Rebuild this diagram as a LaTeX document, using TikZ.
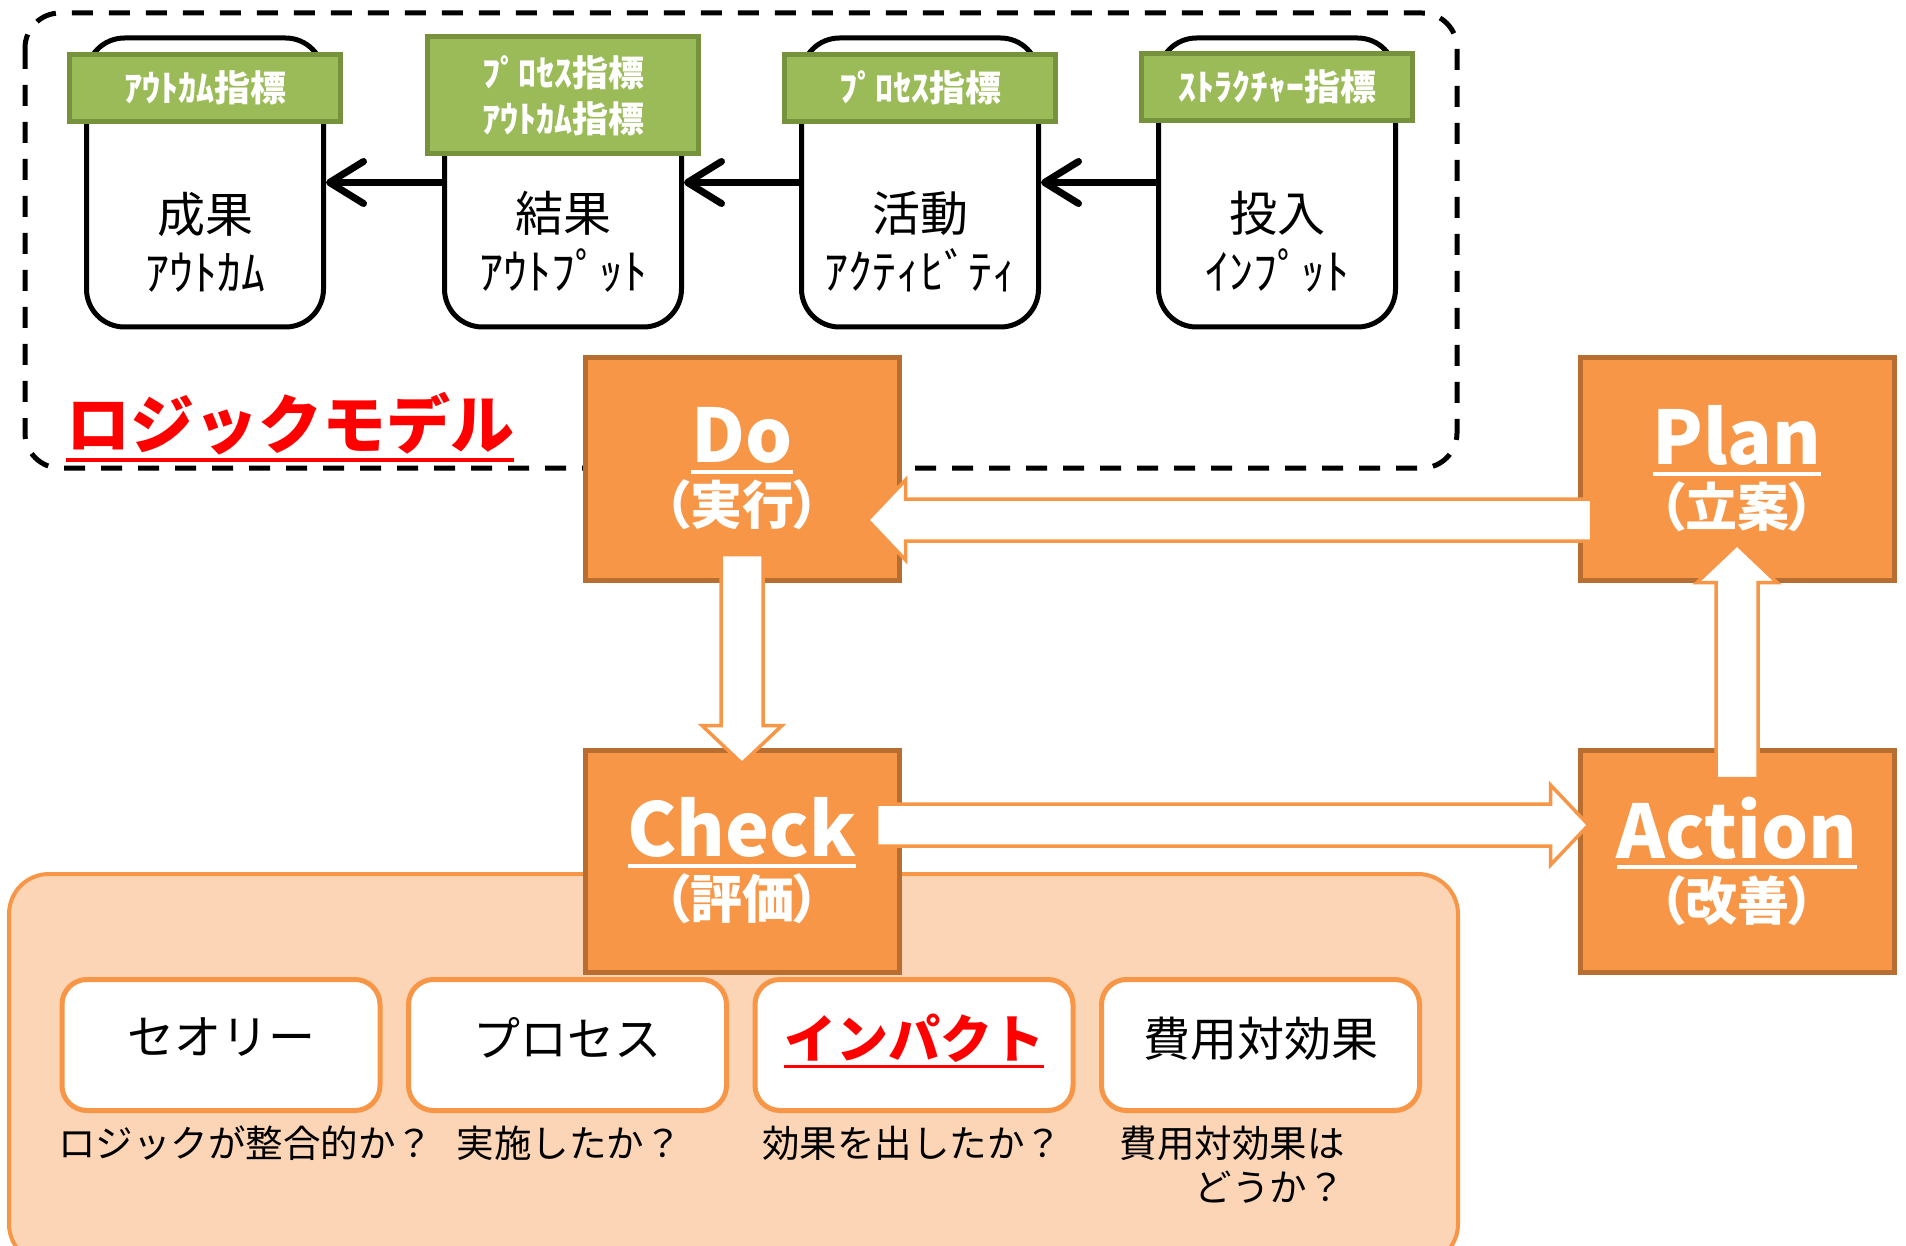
\documentclass[tikz,border=0pt]{standalone}
\usepackage{fontspec}
\setmainfont{Noto Sans CJK JP}
\newfontfamily\pdcafont{Noto Sans CJK JP}[RawFeature=+palt]
\usetikzlibrary{arrows.meta,calc}

\definecolor{pdcafill}{RGB}{247,150,70}
\definecolor{pdcaborder}{RGB}{183,110,48}
\definecolor{tagfill}{RGB}{155,187,89}
\definecolor{tagborder}{RGB}{118,146,60}
\definecolor{panelfill}{RGB}{251,213,181}
\definecolor{logicred}{RGB}{255,0,0}

% underlined text: #1 kern, #2 rule height, #3 text
\newcommand{\uln}[3]{\vtop{\hbox{#3}\kern#1\hrule height #2}}

% white block arrow from tail #1 to tip #2
\newcommand{\pdcaarrow}[2]{%
  \coordinate (hb) at ($(#2)!38pt!(#1)$);
  \draw[pdca arrow] ($(#1)!21pt!90:(#2)$) -- ($(hb)!21pt!90:(#2)$)
    -- ($(hb)!40pt!90:(#2)$) -- (#2) -- ($(hb)!40pt!-90:(#2)$)
    -- ($(hb)!21pt!-90:(#2)$) -- ($(#1)!21pt!-90:(#2)$) -- cycle;}

\tikzset{
  logic box/.style={draw=black, line width=5pt, rounded corners=38pt, fill=white,
    minimum width=237pt, minimum height=289pt},
  tag box/.style={draw=tagborder, fill=tagfill, line width=5pt, minimum width=271pt,
    text=white, align=center, inner sep=0pt, font=\bfseries\fontsize{36}{46}\selectfont},
  box text/.style={align=center, inner sep=0pt, font=\fontsize{48}{58}\selectfont},
  chain arrow/.style={line width=7pt, -{Straight Barb[length=34pt,width=42pt,round]}},
  pdca box/.style={draw=pdcaborder, fill=pdcafill, line width=5pt, minimum width=314pt,
    minimum height=222pt, text=white, align=center, inner sep=0pt,
    font=\pdcafont\bfseries\fontsize{52}{62}\selectfont},
  pdca arrow/.style={draw=pdcafill, fill=white, line width=3.5pt},
  eval box/.style={draw=pdcafill, fill=white, line width=5pt, rounded corners=25pt,
    minimum width=318pt, minimum height=131pt, text depth=17pt,
    font=\fontsize{47}{56}\selectfont},
  caption/.style={inner sep=0pt, font=\fontsize{37.5}{44}\selectfont}
}

\begin{document}
\begin{tikzpicture}[x=1pt, y=-1pt]
  \useasboundingbox (0,0) rectangle (1906,1246);

  % logic model frame
  \draw[line width=5pt, dash pattern=on 21pt off 16pt, rounded corners=35pt]
    (25,13) rectangle (1457,468);

  \node[logic box] (outcome) at (205,182.5) {};
  \node[logic box] (output) at (563,182.5) {};
  \node[logic box] (activity) at (920,182.5) {};
  \node[logic box] (input) at (1277,182.5) {};

  \node[tag box, minimum height=67pt] (outcometag) at (205,88) {ｱｳﾄｶﾑ指標};
  \node[tag box, minimum height=117pt] (outputtag) at (563,95.5) {ﾌﾟﾛｾｽ指標\\ｱｳﾄｶﾑ指標};
  \node[tag box, minimum height=67pt] (activitytag) at (920,88) {ﾌﾟﾛｾｽ指標};
  \node[tag box, minimum height=67pt] (inputtag) at (1277,87) {ｽﾄﾗｸﾁｬｰ指標};

  \node[box text] (outcometext) at (205,242) {成果\\ｱｳﾄｶﾑ};
  \node[box text] (outputtext) at (563,242) {結果\\ｱｳﾄﾌﾟｯﾄ};
  \node[box text] (activitytext) at (920,242) {活動\\ｱｸﾃｨﾋﾞﾃｨ};
  \node[box text] (inputtext) at (1277,242) {投入\\ｲﾝﾌﾟｯﾄ};

  \draw[chain arrow] (input.west) -- (activity.east);
  \draw[chain arrow] (activity.west) -- (output.east);
  \draw[chain arrow] (output.west) -- (outcome.east);

  \node[anchor=base west, inner sep=0pt, text=logicred,
    font=\bfseries\fontsize{64}{70}\selectfont] (logictitle) at (66,448)
    {\uln{3pt}{4pt}{ロジックモデル}};

  % check panel
  \draw[draw=pdcafill, fill=panelfill, line width=4pt, rounded corners=40pt]
    (9,874) rectangle (1458,1264);

  \node[eval box] (theory) at (221,1045) {セオリー};
  \node[eval box] (process) at (567.5,1045) {プロセス};
  \node[eval box, text=logicred, font=\bfseries\fontsize{52}{60}\selectfont] (impact)
    at (914,1045) {\uln{2pt}{3pt}{インパクト}};
  \node[eval box] (cost) at (1260.5,1045) {費用対効果};

  \node[caption, anchor=west] (theoryq) at (58,1143) {ロジックが整合的か？};
  \node[caption] (processq) at (569,1143) {実施したか？};
  \node[caption] (impactq) at (912,1143) {効果を出したか？};
  \node[caption, align=right, anchor=east] (costq) at (1345,1165) {費用対効果は\\どうか？};

  % PDCA
  \node[pdca box] (do) at (742,469) {\uln{6pt}{4pt}{\fontsize{74}{62}\selectfont Do}\\（実行）};
  \node[pdca box] (plan) at (1737,469) {\uln{6pt}{4pt}{\fontsize{74}{62}\selectfont Plan}\\（立案）};
  \node[pdca box] (check) at (742,861) {\uln{6pt}{4pt}{\fontsize{74}{62}\selectfont Check}\\（評価）};
  \node[pdca box] (action) at (1737,861) {\uln{6pt}{4pt}{\fontsize{74}{62}\selectfont Action}\\（改善）};

  \coordinate (plantail) at ($(plan.west)+(14,51)$);
  \coordinate (dotip) at ($(do.east)+(-34,51)$);
  \coordinate (dotail) at ($(do.south)+(0,-28)$);
  \coordinate (checktip) at ($(check.north)+(0,16)$);
  \coordinate (checktail) at ($(check.east)+(-25,-36)$);
  \coordinate (actiontip) at ($(action.west)+(11,-36)$);
  \coordinate (actiontail) at ($(action.north)+(0,31)$);
  \coordinate (plantip) at ($(plan.south)+(0,-38)$);

  \pdcaarrow{plantail}{dotip}
  \pdcaarrow{dotail}{checktip}
  \pdcaarrow{checktail}{actiontip}
  \pdcaarrow{actiontail}{plantip}
\end{tikzpicture}
\end{document}
